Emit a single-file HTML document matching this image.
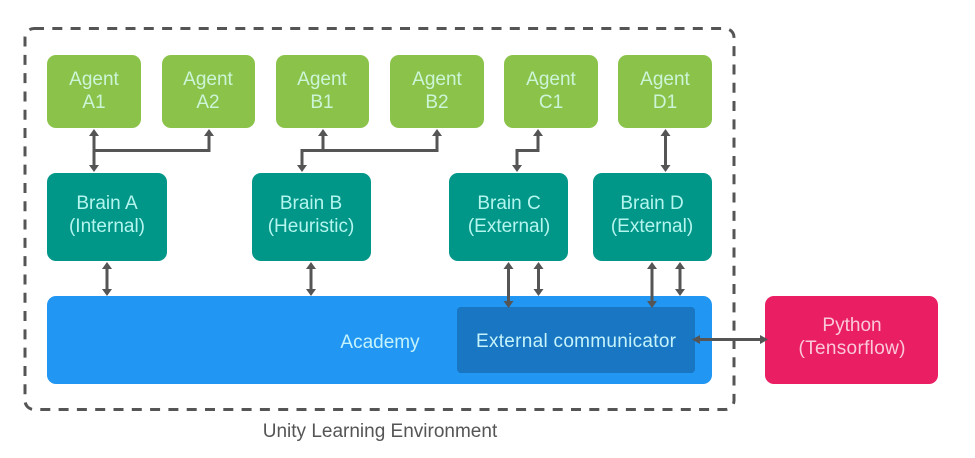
<!DOCTYPE html>
<html><head><meta charset="utf-8"><style>
html,body{margin:0;padding:0;background:#fff;width:975px;height:458px;overflow:hidden}
svg{display:block}
text{font-family:"Liberation Sans",sans-serif;font-size:19px;text-anchor:middle}
.l{fill:#ccf5d8}.t{fill:#b4f5ee}.b{fill:#c4f3fb}.p{fill:#fbc8d8}
.c{fill:none;stroke:#555;stroke-width:3}
.a{fill:#555;stroke:none}
</style></head><body>
<svg width="975" height="458" viewBox="0 0 975 458" xmlns="http://www.w3.org/2000/svg">
<rect x="25" y="28.500" width="709" height="381" rx="9" fill="none" stroke="#555" stroke-width="3" stroke-dasharray="10 8.300"/>
<g fill="#8bc34a">
<rect x="47" y="55" width="94" height="73" rx="9"/>
<rect x="162" y="55" width="93" height="73" rx="9"/>
<rect x="276" y="55" width="93" height="73" rx="9"/>
<rect x="390" y="55" width="94" height="73" rx="9"/>
<rect x="504" y="55" width="94" height="73" rx="9"/>
<rect x="618" y="55" width="94" height="73" rx="9"/>
</g>
<g class="l">
<text x="94" y="85">Agent</text><text x="94" y="108">A1</text>
<text x="208" y="85">Agent</text><text x="208" y="108">A2</text>
<text x="322" y="85">Agent</text><text x="322" y="108">B1</text>
<text x="437" y="85">Agent</text><text x="437" y="108">B2</text>
<text x="551" y="85">Agent</text><text x="551" y="108">C1</text>
<text x="665" y="85">Agent</text><text x="665" y="108">D1</text>
</g>
<g fill="#009688">
<rect x="47" y="173" width="120" height="88" rx="9"/>
<rect x="252" y="173" width="119" height="88" rx="9"/>
<rect x="449" y="173" width="119" height="88" rx="9"/>
<rect x="593" y="173" width="119" height="88" rx="9"/>
</g>
<g class="t">
<text x="107" y="209">Brain A</text><text x="107" y="232">(Internal)</text>
<text x="311" y="209">Brain B</text><text x="311" y="232">(Heuristic)</text>
<text x="509" y="209">Brain C</text><text x="509" y="232">(External)</text>
<text x="652" y="209">Brain D</text><text x="652" y="232">(External)</text>
</g>
<rect x="47" y="296" width="665" height="88" rx="9" fill="#2196f3"/>
<rect x="457" y="307" width="238" height="66" rx="4" fill="#1976c2"/>
<text x="380" y="348" class="b">Academy</text>
<text x="576" y="347" class="b" textLength="200">External communicator</text>
<rect x="765" y="296" width="173" height="88" rx="9" fill="#e91e63"/>
<g class="p"><text x="852" y="331">Python</text><text x="852" y="354" textLength="107">(Tensorflow)</text></g>
<text x="380" y="437" style="fill:#555">Unity Learning Environment</text>
<g class="c">
<path d="M94 134V166"/>
<path d="M94 150.500H209V134"/>
<path d="M323 134V150.500"/>
<path d="M302 166V150.500H437V134"/>
<path d="M538 134V150.500H517V166"/>
<path d="M665.500 134V166"/>
<path d="M107 267V291"/>
<path d="M311 267V291"/>
<path d="M508.500 267V302"/>
<path d="M538.500 267V291"/>
<path d="M652 267V302"/>
<path d="M680 267V291"/>
<path d="M698 339.500H762"/>
</g>
<g class="a">
<path d="M94 129l-5 7h10z"/><path d="M94 172l-5-7h10z"/>
<path d="M209 129l-5 7h10z"/>
<path d="M323 129l-5 7h10z"/><path d="M302 172l-5-7h10z"/>
<path d="M437 129l-5 7h10z"/>
<path d="M538 129l-5 7h10z"/><path d="M517 172l-5-7h10z"/>
<path d="M665.500 129l-5 7h10z"/><path d="M665.500 172l-5-7h10z"/>
<path d="M107 262l-5 7h10z"/><path d="M107 296l-5-7h10z"/>
<path d="M311 262l-5 7h10z"/><path d="M311 296l-5-7h10z"/>
<path d="M508.500 262l-5 7h10z"/><path d="M508.500 308l-5-7h10z"/>
<path d="M538.500 262l-5 7h10z"/><path d="M538.500 296l-5-7h10z"/>
<path d="M652 262l-5 7h10z"/><path d="M652 308l-5-7h10z"/>
<path d="M680 262l-5 7h10z"/><path d="M680 296l-5-7h10z"/>
<path d="M692 339.500l8-4.500v9z"/><path d="M768 339.500l-8-4.500v9z"/>
</g>
</svg>
</body></html>
